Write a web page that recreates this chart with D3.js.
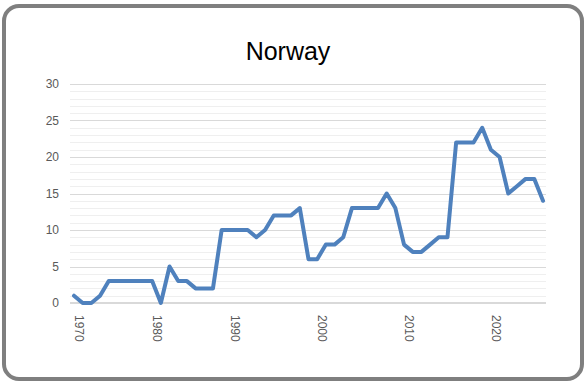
<!DOCTYPE html>
<html>
<head>
<meta charset="utf-8">
<script src="https://cdn.jsdelivr.net/npm/d3@7"></script>
<style>
  body { margin: 0; background: #fff; }
  text { font-family: "Liberation Sans", Arial, sans-serif; }
</style>
</head>
<body>
<div id="chart"></div>
<script>
const title = 'Norway';
const values = [1, 0, 0, 1, 3, 3, 3, 3, 3, 3, 0, 5, 3, 3, 2, 2, 2, 10, 10, 10,
  10, 9, 10, 12, 12, 12, 13, 6, 6, 8, 8, 9, 13, 13, 13, 13, 15, 13, 8, 7,
  7, 8, 9, 9, 22, 22, 22, 24, 21, 20, 15, 16, 17, 17, 14];
const tickIndex = [0, 9, 18, 28, 38, 48];
const tickLabels = ['1970', '1980', '1990', '2000', '2010', '2020'];
const yTicks = [0, 5, 10, 15, 20, 25, 30];

const width = 587;
const height = 386;
const margin = { top: 84, bottom: 83, left: 70, right: 41 };

const svg = d3.select('#chart')
  .append('svg')
  .attr('width', width)
  .attr('height', height);

// frame
svg.append('rect')
  .attr('x', 4).attr('y', 6)
  .attr('width', 578).attr('height', 373)
  .attr('rx', 15)
  .attr('fill', '#fff')
  .attr('stroke', '#7f7f7f')
  .attr('stroke-width', 4);

svg.append('text')
  .attr('x', 288).attr('y', 60)
  .attr('text-anchor', 'middle')
  .attr('font-size', '25px')
  .attr('fill', '#000')
  .text(title);

const x = d3.scaleLinear()
  .domain([0, values.length - 1])
  .range([margin.left + 4, width - margin.right - 3]);

const y = d3.scaleLinear()
  .domain([0, 30])
  .range([height - margin.bottom, margin.top]);

// minor gridlines
svg.append('g')
  .selectAll('line')
  .data(d3.range(1, 30).filter(v => v % 5 !== 0))
  .join('line')
    .attr('x1', margin.left)
    .attr('x2', width - margin.right)
    .attr('y1', d => Math.round(y(d)) + 0.5)
    .attr('y2', d => Math.round(y(d)) + 0.5)
    .attr('stroke', '#efefef');

// major gridlines
svg.append('g')
  .selectAll('line')
  .data(yTicks.slice(1))
  .join('line')
    .attr('x1', margin.left)
    .attr('x2', width - margin.right)
    .attr('y1', d => Math.round(y(d)) + 0.5)
    .attr('y2', d => Math.round(y(d)) + 0.5)
    .attr('stroke', '#d9d9d9');

// y axis
svg.append('g')
  .attr('transform', `translate(${margin.left}, 0)`)
  .call(d3.axisLeft(y).tickValues(yTicks).tickSize(0).tickPadding(11))
  .call(g => g.select('.domain').remove())
  .call(g => g.selectAll('text')
    .attr('font-family', '"Liberation Sans", Arial, sans-serif')
    .attr('font-size', '12px')
    .attr('fill', '#595959'));

// baseline
svg.append('line')
  .attr('x1', margin.left)
  .attr('x2', width - margin.right)
  .attr('y1', y(0))
  .attr('y2', y(0))
  .attr('stroke', '#d9d9d9')
  .attr('stroke-width', 2);

// x axis labels
svg.append('g')
  .selectAll('text')
  .data(tickIndex)
  .join('text')
    .attr('transform', d => `translate(${x(d) + 5},${y(0) + 12}) rotate(90)`)
    .attr('dy', '0.35em')
    .attr('font-size', '12px')
    .attr('fill', '#595959')
    .text((d, i) => tickLabels[i]);

const line = d3.line()
  .x((d, i) => x(i))
  .y(d => y(d));

svg.append('path')
  .datum(values)
  .attr('fill', 'none')
  .attr('stroke', '#4f81bd')
  .attr('stroke-width', 4)
  .attr('stroke-linejoin', 'round')
  .attr('stroke-linecap', 'round')
  .attr('d', line);
</script>
</body>
</html>
